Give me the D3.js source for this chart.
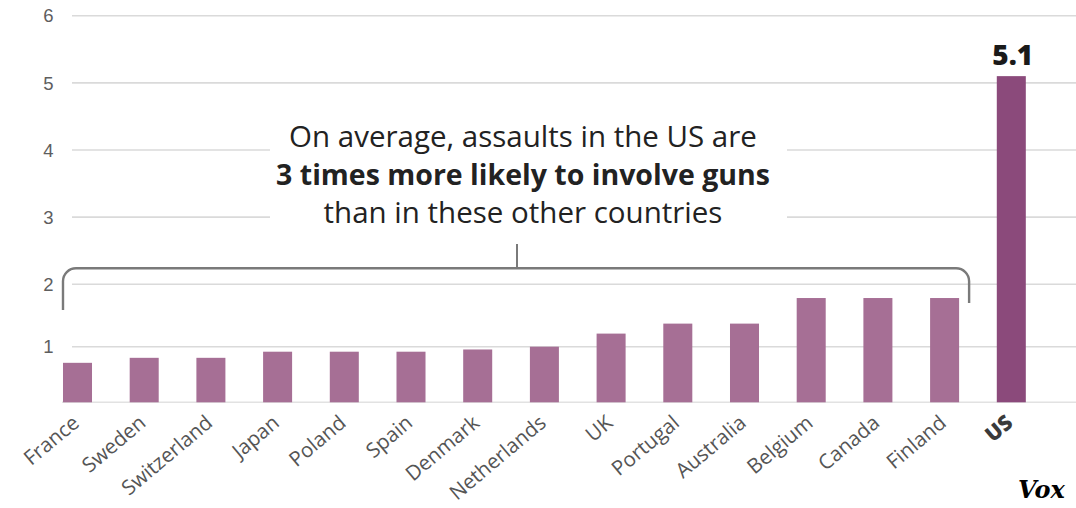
<!DOCTYPE html>
<html>
<head>
<meta charset="utf-8">
<script src="https://cdn.jsdelivr.net/npm/d3@7"></script>
<style>
  html, body { margin: 0; padding: 0; background: #fff; }
  svg { display: block; }
</style>
</head>
<body>
<svg id="chart" width="1076" height="508"></svg>
<script>
const categories = ["France","Sweden","Switzerland","Japan","Poland","Spain","Denmark","Netherlands","UK","Portugal","Australia","Belgium","Canada","Finland","US"];
const values = [0.71,0.8,0.8,0.91,0.91,0.91,0.95,1.0,1.21,1.37,1.37,1.78,1.78,1.78,5.1];
const yTickValues = [1,2,3,4,5,6];
const highlightCategory = "US";
const annotationLines = [
  {text: "On average, assaults in the US are", bold: false},
  {text: "3 times more likely to involve guns", bold: true},
  {text: "than in these other countries", bold: false}
];
const logoText = "Vox";

const svg = d3.select("#chart");
const W = 1076, H = 508;

const x = d3.scaleBand().domain(categories).range([44.15, 1044.65]).paddingInner(0.565).paddingOuter(0.2825);
const y = d3.scaleLinear().domain([0, 1, 2, 6]).range([402.3, 346.7, 284.3, 15.7]);

// gridlines
svg.append("g").selectAll("line").data(yTickValues).join("line")
  .attr("x1", 72).attr("x2", W)
  .attr("y1", d => y(d)).attr("y2", d => y(d))
  .attr("stroke", "#dadada").attr("stroke-width", 1.6);

// tick labels
svg.append("g").selectAll("text").data(yTickValues).join("text")
  .attr("x", 53.5).attr("y", d => y(d)).attr("dy", "0.36em")
  .attr("text-anchor", "end")
  .attr("font-family", "Liberation Sans, Arial, sans-serif")
  .attr("font-size", 18.5).attr("fill", "#5e5e5e")
  .text(d => d);

// baseline
svg.append("line").attr("x1", 62).attr("x2", W).attr("y1", y(0)).attr("y2", y(0))
  .attr("stroke", "#e2e2e2").attr("stroke-width", 1.5);

// white box behind annotation
svg.append("rect").attr("x", 270).attr("y", 112).attr("width", 517).attr("height", 122).attr("fill", "#fff");

// bars
svg.append("g").selectAll("rect").data(categories).join("rect")
  .attr("x", d => x(d)).attr("width", x.bandwidth())
  .attr("y", (d, i) => y(values[i])).attr("height", (d, i) => y(0) - y(values[i]))
  .attr("fill", d => d === highlightCategory ? "#8b4a7b" : "#a66f95");

// value label for highlight
const hi = categories.indexOf(highlightCategory);
svg.append("text")
  .attr("x", x(highlightCategory) + x.bandwidth() / 2 + 1.5)
  .attr("y", y(values[hi]) - 11)
  .attr("text-anchor", "middle")
  .attr("font-family", "Open Sans, sans-serif").attr("font-weight", 800)
  .attr("font-size", 28).attr("fill", "#1a1a1a")
  .text(values[hi].toFixed(1));

// x labels
svg.append("g").selectAll("text").data(categories).join("text")
  .attr("transform", d => `translate(${x(d) + x.bandwidth() / 2 + 3},${425}) rotate(-40)`)
  .attr("text-anchor", "end")
  .attr("font-family", "Open Sans, sans-serif")
  .attr("font-size", d => d === highlightCategory ? 21 : 20.5)
  .attr("font-weight", d => d === highlightCategory ? 800 : 500)
  .attr("fill", d => d === highlightCategory ? "#3a3a3a" : "#555")
  .text(d => d);

// bracket
const others = categories.filter(c => c !== highlightCategory);
const bx0 = x(others[0]) + 0;
const bx1 = x(others[others.length - 1]) + x.bandwidth() + 10;
const by = 268.3, r = 13;
const bmid = 517;
const bpath = d3.path();
bpath.moveTo(bx0, 310);
bpath.lineTo(bx0, by + r);
bpath.arcTo(bx0, by, bx0 + r, by, r);
bpath.lineTo(bx1 - r, by);
bpath.arcTo(bx1, by, bx1, by + r, r);
bpath.lineTo(bx1, 303);
svg.append("path").attr("d", bpath.toString()).attr("fill", "none")
  .attr("stroke", "#7a7a7a").attr("stroke-width", 2.4);
svg.append("line").attr("x1", bmid).attr("x2", bmid).attr("y1", 244).attr("y2", by)
  .attr("stroke", "#7a7a7a").attr("stroke-width", 2);

// annotation
const ann = svg.append("g");
annotationLines.forEach((l, i) => {
  ann.append("text")
    .attr("x", 523).attr("y", 147 + i * 38)
    .attr("text-anchor", "middle")
    .attr("font-family", "Open Sans, sans-serif")
    .attr("font-size", l.bold ? 28.5 : 29.5)
    .attr("font-weight", l.bold ? 700 : 400)
    .attr("fill", "#222")
    .text(l.text);
});

// logo
svg.append("text").attr("x", 1018).attr("y", 498)
  .attr("font-family", "DejaVu Serif, serif").attr("font-weight", 700)
  .attr("font-style", "italic").attr("font-size", 24).attr("fill", "#000")
  .text(logoText);
</script>
</body>
</html>
